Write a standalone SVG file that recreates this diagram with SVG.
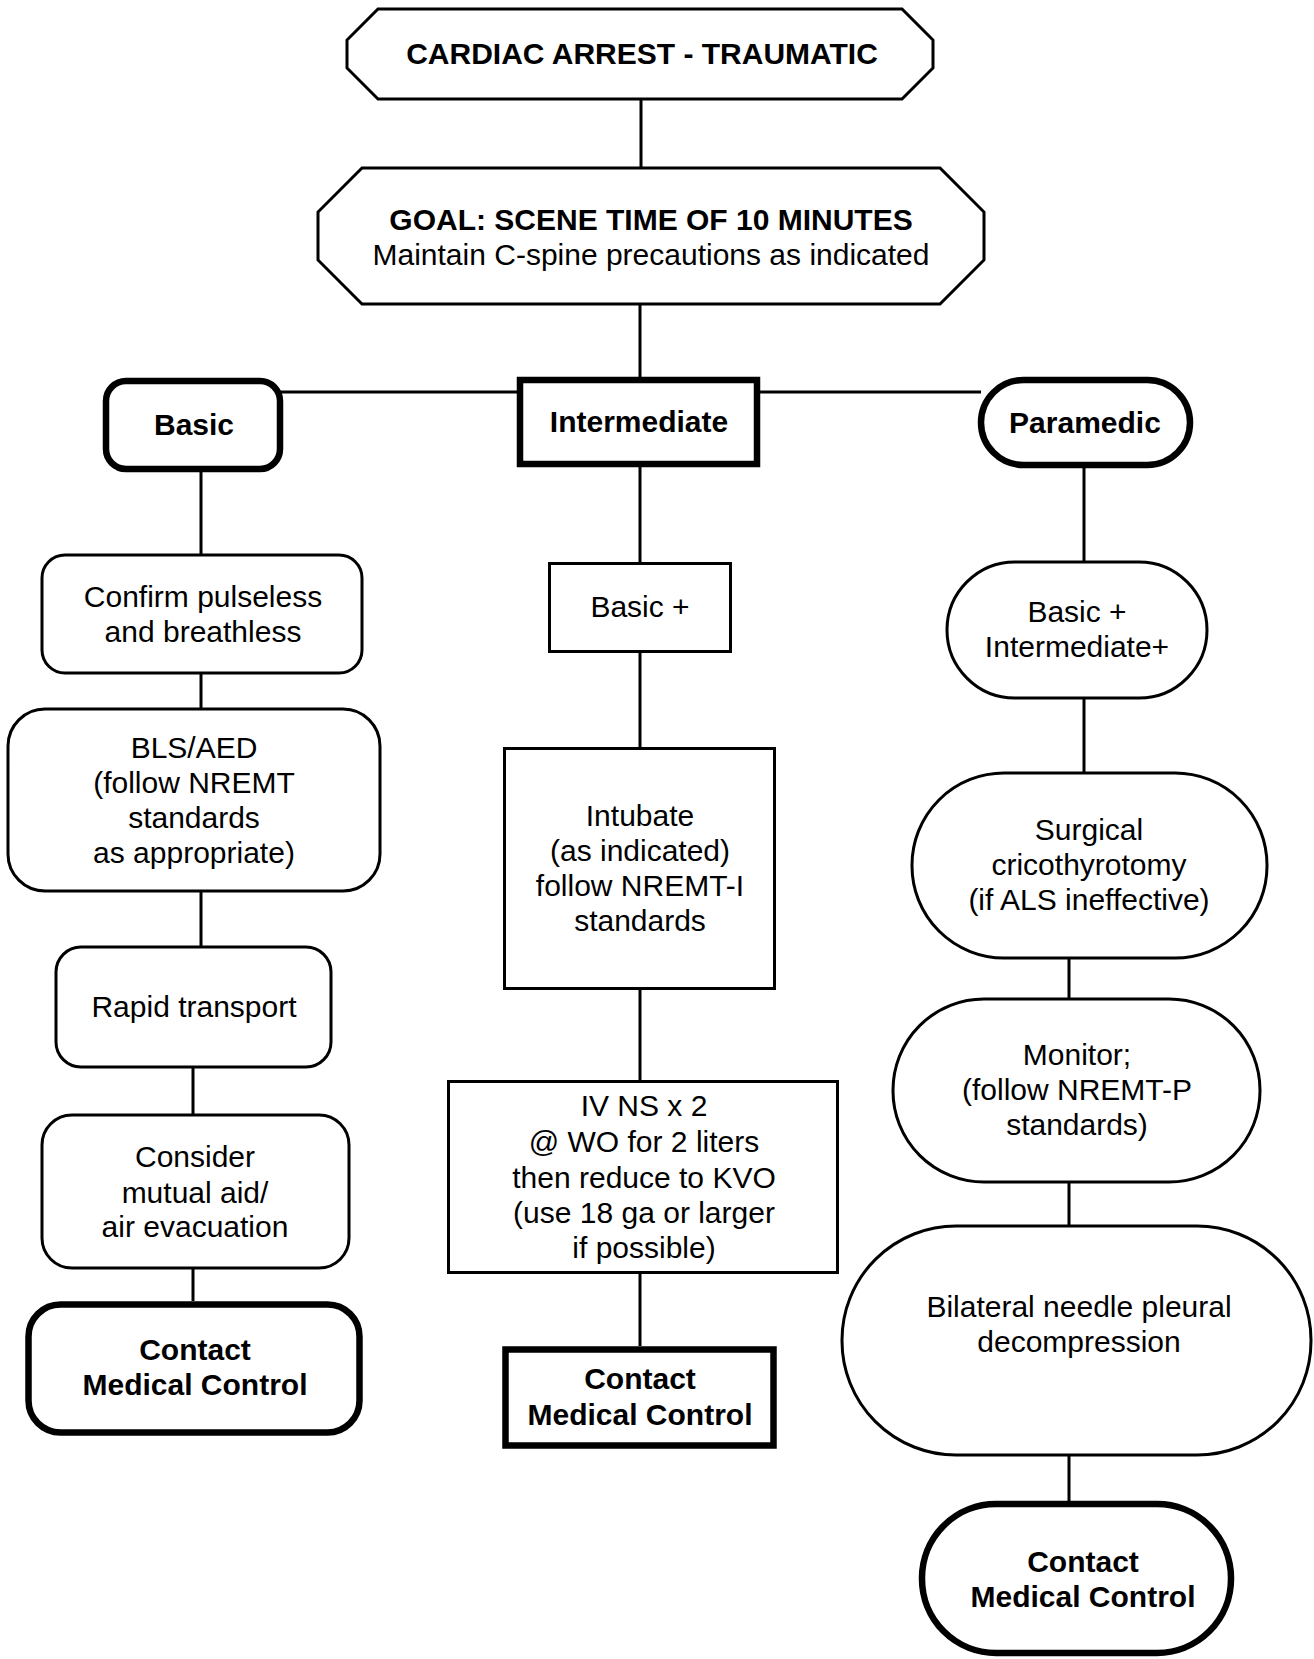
<svg xmlns="http://www.w3.org/2000/svg" width="1314" height="1659" viewBox="0 0 1314 1659">
<style>
.n{fill:#fff;stroke:#000;stroke-width:3}
.t{fill:#fff;stroke:#000;stroke-width:6.5}
.c{stroke:#000;stroke-width:3;fill:none}
text{font-family:"Liberation Sans",Arial,sans-serif;font-size:30px;fill:#000;text-anchor:middle}
.b{font-weight:bold}
</style>
<rect width="1314" height="1659" fill="#fff"/>
<g id="connectors" class="c">
<line x1="641" y1="99" x2="641" y2="168"/>
<line x1="640" y1="304" x2="640" y2="380"/>
<line x1="280" y1="392" x2="981" y2="392"/>
<line x1="201" y1="469" x2="201" y2="555"/>
<line x1="640" y1="464" x2="640" y2="562"/>
<line x1="1084" y1="465" x2="1084" y2="562"/>
<line x1="201" y1="673" x2="201" y2="709"/>
<line x1="201" y1="891" x2="201" y2="947"/>
<line x1="193" y1="1067" x2="193" y2="1115"/>
<line x1="193" y1="1268" x2="193" y2="1301"/>
<line x1="640" y1="653" x2="640" y2="747"/>
<line x1="640" y1="990" x2="640" y2="1080"/>
<line x1="640" y1="1274" x2="640" y2="1346"/>
<line x1="1084" y1="698" x2="1084" y2="773"/>
<line x1="1069" y1="958" x2="1069" y2="999"/>
<line x1="1069" y1="1182" x2="1069" y2="1226"/>
<line x1="1069" y1="1455" x2="1069" y2="1502"/>
</g>
<g id="title">
<polygon class="n" points="378,9 902,9 933,40 933,68 902,99 378,99 347,68 347,40"/>
<text class="b" x="642" y="64">CARDIAC ARREST - TRAUMATIC</text>
</g>
<g id="goal">
<polygon class="n" points="362,168 940,168 984,212 984,260 940,304 362,304 318,260 318,212"/>
<text class="b" x="651" y="230">GOAL: SCENE TIME OF 10 MINUTES</text>
<text x="651" y="265">Maintain C-spine precautions as indicated</text>
</g>
<g id="basic">
<rect class="t" x="106" y="381" width="174" height="88" rx="20"/>
<text class="b" x="194" y="435">Basic</text>
</g>
<g id="intermediate">
<rect class="t" x="520" y="380" width="237" height="84"/>
<text class="b" x="639" y="432">Intermediate</text>
</g>
<g id="paramedic">
<rect class="t" x="981" y="380" width="209" height="85" rx="42.5"/>
<text class="b" x="1085" y="433">Paramedic</text>
</g>
<g id="confirm">
<rect class="n" x="42" y="555" width="320" height="118" rx="23"/>
<text x="203" y="607">Confirm pulseless</text>
<text x="203" y="642">and breathless</text>
</g>
<g id="bls">
<rect class="n" x="8" y="709" width="372" height="182" rx="37"/>
<text x="194" y="758">BLS/AED</text>
<text x="194" y="793">(follow NREMT</text>
<text x="194" y="828">standards</text>
<text x="194" y="863">as appropriate)</text>
</g>
<g id="rapid">
<rect class="n" x="56" y="947" width="275" height="120" rx="25"/>
<text x="194" y="1017">Rapid transport</text>
</g>
<g id="consider">
<rect class="n" x="42" y="1115" width="307" height="153" rx="30"/>
<text x="195" y="1167">Consider</text>
<text x="195" y="1203">mutual aid/</text>
<text x="195" y="1237">air evacuation</text>
</g>
<g id="contact-basic">
<rect class="t" x="28.5" y="1304.5" width="331" height="128" rx="32"/>
<text class="b" x="195" y="1360">Contact</text>
<text class="b" x="195" y="1395">Medical Control</text>
</g>
<g id="basicplus">
<rect class="n" x="549.5" y="563.5" width="181" height="88"/>
<text x="640" y="617">Basic +</text>
</g>
<g id="intubate">
<rect class="n" x="504.5" y="748.5" width="270" height="240"/>
<text x="640" y="826">Intubate</text>
<text x="640" y="861">(as indicated)</text>
<text x="640" y="896">follow NREMT-I</text>
<text x="640" y="931">standards</text>
</g>
<g id="ivns">
<rect class="n" x="448.5" y="1081.5" width="389" height="191"/>
<text x="644" y="1116">IV NS x 2</text>
<text x="644" y="1152">@ WO for 2 liters</text>
<text x="644" y="1188">then reduce to KVO</text>
<text x="644" y="1223">(use 18 ga or larger</text>
<text x="644" y="1258">if possible)</text>
</g>
<g id="contact-intermediate">
<rect class="t" x="505.5" y="1349.5" width="268" height="96"/>
<text class="b" x="640" y="1389">Contact</text>
<text class="b" x="640" y="1425">Medical Control</text>
</g>
<g id="basic-intermediate-plus">
<rect class="n" x="947" y="562" width="260" height="136" rx="68"/>
<text x="1077" y="622">Basic +</text>
<text x="1077" y="657">Intermediate+</text>
</g>
<g id="surgical">
<rect class="n" x="912" y="773" width="355" height="185" rx="92"/>
<text x="1089" y="840">Surgical</text>
<text x="1089" y="875">cricothyrotomy</text>
<text x="1089" y="910">(if ALS ineffective)</text>
</g>
<g id="monitor">
<rect class="n" x="893" y="999" width="367" height="183" rx="91"/>
<text x="1077" y="1065">Monitor;</text>
<text x="1077" y="1100">(follow NREMT-P</text>
<text x="1077" y="1135">standards)</text>
</g>
<g id="bilateral">
<rect class="n" x="842" y="1226" width="469" height="229" rx="114"/>
<text x="1079" y="1317">Bilateral needle pleural</text>
<text x="1079" y="1352">decompression</text>
</g>
<g id="contact-paramedic">
<rect class="t" x="922" y="1504" width="309" height="149" rx="74"/>
<text class="b" x="1083" y="1572">Contact</text>
<text class="b" x="1083" y="1607">Medical Control</text>
</g>
</svg>
